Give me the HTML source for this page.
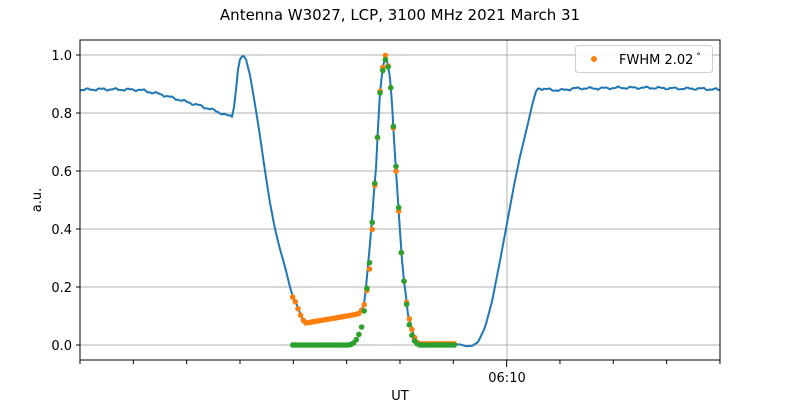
<!DOCTYPE html><html><head><style>body{margin:0;background:#fff}svg{font-family:"DejaVu Sans","Liberation Sans",sans-serif}</style></head><body>
<svg id="s" width="800" height="400" xmlns="http://www.w3.org/2000/svg">
<rect width="800" height="400" fill="#fff"/>
<text x="400" y="20" text-anchor="middle" font-size="15">Antenna W3027, LCP, 3100 MHz 2021 March 31</text>
<g stroke="#b0b0b0" stroke-width="1">
<line x1="80" x2="720" y1="55" y2="55"/><line x1="80" x2="720" y1="113" y2="113"/><line x1="80" x2="720" y1="171" y2="171"/><line x1="80" x2="720" y1="229" y2="229"/><line x1="80" x2="720" y1="287" y2="287"/><line x1="80" x2="720" y1="345" y2="345"/>
<line x1="507" x2="507" y1="40" y2="360"/>
</g>
<g font-size="13" text-anchor="end">
<text x="72" y="60">1.0</text><text x="72" y="118">0.8</text><text x="72" y="176">0.6</text><text x="72" y="234">0.4</text><text x="72" y="292">0.2</text><text x="72" y="350">0.0</text>
</g>
<g stroke="#000"><line x1="76" x2="80" y1="55" y2="55"/><line x1="76" x2="80" y1="113" y2="113"/><line x1="76" x2="80" y1="171" y2="171"/><line x1="76" x2="80" y1="229" y2="229"/><line x1="76" x2="80" y1="287" y2="287"/><line x1="76" x2="80" y1="345" y2="345"/></g>
<g id="ticks" stroke="#000"></g>
<text x="507" y="382" text-anchor="middle" font-size="13">06:10</text>
<text x="400" y="400" text-anchor="middle" font-size="13">UT</text>
<text transform="translate(41,200) rotate(-90)" text-anchor="middle" font-size="13">a.u.</text>
<path id="blue" fill="none" stroke="#1f77b4" stroke-width="2" stroke-linejoin="round"/>
<g id="og" fill="#ff7f0e"></g><g id="gg" fill="#2ca02c"></g>
<rect x="80" y="40" width="640" height="320" fill="none" stroke="#000" stroke-width="1"/>
<rect x="575.5" y="45.5" width="137" height="27" rx="3" fill="#fff" stroke="#ccc" opacity="0.9"/>
<circle cx="594" cy="59" r="3" fill="#ff7f0e"/>
<text x="619" y="64" font-size="13">FWHM 2.02<tspan font-size="9" dy="-5"> °</tspan></text>
</svg>
<script>
const NS="http://www.w3.org/2000/svg";
function Y(v){return 345-v*290}
function interp(p,x){for(let i=0;i<p.length-1;i++){if(x>=p[i][0]&&x<=p[i+1][0]){let t=(x-p[i][0])/(p[i+1][0]-p[i][0]);return p[i][1]+t*(p[i+1][1]-p[i][1]);}}return p[p.length-1][1];}
let tk=document.getElementById('ticks');
for(let i=0;i<=12;i++){let x=80+i*53.33;let l=document.createElementNS(NS,'line');l.setAttribute('x1',x);l.setAttribute('x2',x);l.setAttribute('y1',360);l.setAttribute('y2',i==8?367:364);tk.appendChild(l);}
const B=[[80,0.88],[100,0.882],[140,0.88],[160,0.865],[180,0.845],[200,0.825],[215,0.808],[228,0.79],[233,0.79],[236,0.88],[238,0.95],[240,0.985],[243,1.0],[246,0.985],[250,0.93],[255,0.83],[260,0.72],[265,0.6],[270,0.49],[275,0.4],[280,0.33],[285,0.27],[290,0.2],[293,0.165],[296,0.145],[300,0.11],[304,0.08],[310,0.08],[330,0.09],[350,0.1],[360,0.11],[364,0.14],[366,0.2],[368.7,0.3],[371.3,0.4],[373.3,0.5],[376,0.61],[378,0.75],[380,0.87],[382.7,0.955],[385,0.995],[387.3,0.98],[390,0.92],[392.3,0.82],[394.3,0.69],[397,0.55],[399.3,0.43],[401.3,0.32],[404,0.22],[406.3,0.16],[407.7,0.108],[409.3,0.09],[411.3,0.063],[413.3,0.035],[416.7,0.012],[422,0.003],[460,0.002],[466,-0.004],[472,-0.003],[478,0.01],[485,0.06],[492,0.15],[500,0.29],[507,0.42],[514,0.55],[520,0.65],[527,0.75],[533,0.84],[537,0.885],[545,0.882],[560,0.878],[575,0.885],[600,0.885],[620,0.887],[650,0.887],[680,0.884],[700,0.884],[720,0.88]];
let d="";for(let x=80;x<=720;x+=2){let v=interp(B,x);if(x<233||x>540)v+=0.003*Math.sin(x*0.45)+0.002*Math.sin(x*1.1);d+=(x==80?"M":"L")+x+","+Y(v).toFixed(1);}
document.getElementById('blue').setAttribute('d',d);
const O=[[292.7,0.165],[296,0.145],[298.5,0.12],[301,0.1],[304,0.08],[306,0.076],[330,0.09],[355,0.105],[360,0.11],[364,0.135],[366,0.17],[368.7,0.224],[371.3,0.34],[373.3,0.47],[376,0.61],[378,0.75],[380,0.87],[382.7,0.955],[385.3,1.0],[387.3,0.98],[390,0.92],[392.3,0.82],[394.3,0.69],[397,0.55],[399.3,0.43],[401.3,0.32],[404,0.22],[406.3,0.16],[407.7,0.108],[409.3,0.09],[411.3,0.063],[413.3,0.035],[416.7,0.01],[420,0.004],[456,0.004]];
const G=[[292.7,0],[350,0],[355,0.01],[359,0.037],[362,0.066],[364,0.11],[366,0.17],[369,0.255],[371,0.36],[373.3,0.48],[376,0.615],[378,0.75],[380,0.865],[382.7,0.945],[385.3,0.985],[387.3,0.975],[390,0.92],[392.3,0.82],[394.3,0.7],[397,0.57],[399.3,0.44],[401.3,0.32],[404,0.22],[406.3,0.155],[407.7,0.095],[409.3,0.07],[411.3,0.04],[413.3,0.02],[416.7,0.005],[420,0],[456,0]];
function dots(p,id){let g=document.getElementById(id);for(let x=292.7;x<=456.5;x+=2.65){let c=document.createElementNS(NS,'circle');c.setAttribute('cx',x.toFixed(1));c.setAttribute('cy',Y(interp(p,x)).toFixed(1));c.setAttribute('r',2.8);g.appendChild(c);}}
dots(O,'og');dots(G,'gg');
</script>
</body></html>
